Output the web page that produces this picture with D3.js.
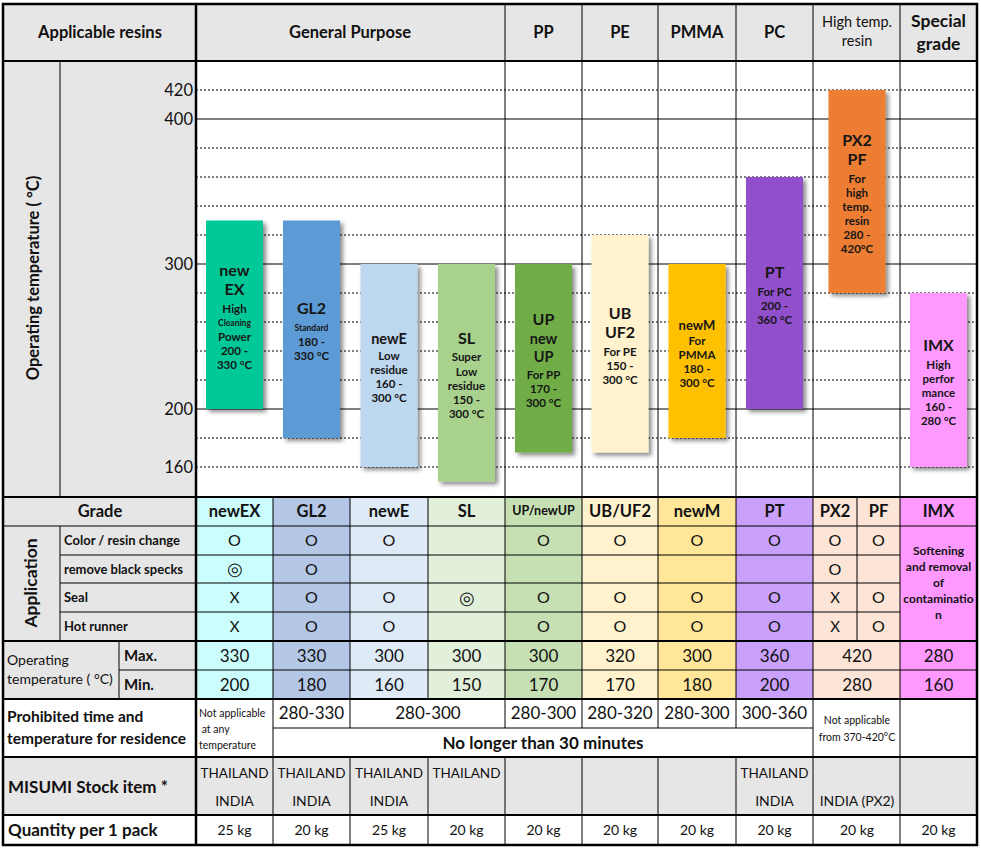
<!DOCTYPE html>
<html>
<head>
<meta charset="utf-8">
<title>Purging grades | operating temperature</title>
<style>
  body { margin: 0; background: #fff; }
  svg text { font-family: Lato, "Open Sans", sans-serif; fill: #111; }
</style>
</head>
<body>
<svg width="981" height="849"></svg>
<script src="https://cdn.jsdelivr.net/npm/d3@7/dist/d3.min.js"></script>
<script>
// ---- data ----
var resinGroups = [["General Purpose"], ["PP"], ["PE"], ["PMMA"], ["PC"], ["High temp.", "resin"], ["Special", "grade"]];
var groupSpan = [[0, 4], [4, 5], [5, 6], [6, 7], [7, 8], [8, 10], [10, 11]];
var subCols = ["newEX", "GL2", "newE", "SL", "UP/newUP", "UB/UF2", "newM", "PT", "PX2", "PF", "IMX"];
var grades = ["newEX", "GL2", "newE", "SL", "UP", "UB", "newM", "PT", "PX2 PF", "IMX"];
var gradeSpan = [[0, 1], [1, 2], [2, 3], [3, 4], [4, 5], [5, 6], [6, 7], [7, 8], [8, 10], [10, 11]];
var maxTemp = [330, 330, 300, 300, 300, 320, 300, 360, 420, 280];
var minTemp = [200, 180, 160, 150, 170, 170, 180, 200, 280, 160];
var yTicks = [420, 400, 300, 200, 160];
var barTitles = [["new", "EX"], ["GL2"], ["newE"], ["SL"], ["UP", "new", "UP"], ["UB", "UF2"], ["newM"], ["PT"], ["PX2", "PF"], ["IMX"]];
var barNotes = [
  ["High", "Cleaning", "Power", "200 -", "330 °C"],
  ["Standard", "180 -", "330  °C"],
  ["Low", "residue", "160 -", "300 °C"],
  ["Super", "Low", "residue", "150 -", "300 °C"],
  ["For PP", "170 -", "300 °C"],
  ["For PE", "150 -", "300 °C"],
  ["For", "PMMA", "180 -", "300 °C"],
  ["For PC", "200 -", "360 °C"],
  ["For", "high", "temp.", "resin", "280 -", "420°C"],
  ["High", "perfor", "mance", "160 -", "280 °C"]
];
var appRows = ["Color / resin change", "remove black specks", "Seal", "Hot runner"];
var appMarks = [
  ["O", "O", "O", "", "O", "O", "O", "O", "O", "O"],
  ["◎", "O", "", "", "", "", "", "", "O", ""],
  ["X", "O", "O", "◎", "O", "O", "O", "O", "X", "O"],
  ["X", "O", "O", "", "O", "O", "O", "O", "X", "O"]
];
var imxApp = ["Softening", "and removal", "of", "contaminatio", "n"];
var prohibitedRange = ["280-330", "280-300", "280-300", "280-320", "280-300", "300-360"];
var prohibitedSpan = [[1, 2], [2, 4], [4, 5], [5, 6], [6, 7], [7, 8]];
var stockItems = [["THAILAND", "INDIA"], ["THAILAND", "INDIA"], ["THAILAND", "INDIA"], ["THAILAND", ""], ["", ""], ["", ""], ["", ""], ["THAILAND", "INDIA"], ["", "INDIA (PX2)"], ["", ""]];
var packQty = ["25 kg", "20 kg", "25 kg", "20 kg", "20 kg", "20 kg", "20 kg", "20 kg", "20 kg", "20 kg"];

// ---- styles ----
var barColors = ["#00c997", "#5b9bd5", "#bdd7ee", "#a9d18e", "#70ad47", "#fff2cc", "#ffc000", "#9250cc", "#ed7d31", "#ff99ff"];
var cellColors = ["#cbfdfd", "#b4c7e7", "#deebf7", "#e2efda", "#c6e0b4", "#fff2cc", "#ffe699", "#c9a0fb", "#fce4d6", "#fce4d6", "#ff99ff"];
var titleSizes = [[16, 16], [16], [14.5], [16], [16, 14.5, 14.5], [16, 16], [13], [16], [16, 16], [16]];
var gray = "#e7e6e6";

var svg = d3.select("svg");
var L = 3, R = 977, T = 4, B = 845;
var rows = { head: 61, chart: 497, grade: 526, app: [526, 555, 583, 612, 641], tmax: 670, temp: 699, proMid: 728, pro: 757, stock: 815 };

// sub-column edges
var x = d3.scaleLinear().domain(d3.range(12)).range([196, 273, 350, 428, 505, 582, 658, 736, 813, 857, 900, 977]);
var y = d3.scaleLinear().domain([200, 400]).range([409, 119]);

var defs = svg.append("defs");
defs.append("filter").attr("id", "shadow").attr("x", "-20%").attr("y", "-10%").attr("width", "150%").attr("height", "130%")
  .append("feDropShadow").attr("dx", 3).attr("dy", 3).attr("stdDeviation", 2)
  .attr("flood-color", "#000").attr("flood-opacity", 0.45);

function box(x0, y0, x1, y1, fill) {
  svg.append("rect").attr("x", x0).attr("y", y0).attr("width", x1 - x0).attr("height", y1 - y0).attr("fill", fill);
}
function line(x0, y0, x1, y1, w, dash) {
  svg.append("line").attr("x1", x0).attr("y1", y0).attr("x2", x1).attr("y2", y1)
    .attr("stroke", "#000").attr("stroke-width", w || 1).attr("stroke-dasharray", dash || null);
}
function label(t, cx, cy, size, bold, anchor, fill) {
  return svg.append("text").attr("x", cx).attr("y", cy).attr("dy", "0.35em")
    .attr("text-anchor", anchor || "middle").attr("font-size", size)
    .attr("font-weight", bold ? "bold" : "normal").style("fill", fill || null).text(t);
}

// ---- backgrounds ----
box(L, T, R, rows.head, gray);
box(L, rows.head, 196, rows.chart, gray);
box(196, rows.head, R, rows.chart, "#fff");
box(L, rows.chart, 196, rows.temp, gray);
box(L, rows.temp, R, rows.pro, "#fff");
box(L, rows.pro, R, rows.stock, gray);
box(L, rows.stock, R, B, "#fff");
subCols.forEach(function(c, i) {
  box(x(i), rows.chart, x(i + 1), rows.temp, cellColors[i]);
});

// ---- chart grid ----
d3.range(160, 421, 20).forEach(function(v) {
  var major = v % 100 === 0;
  line(196, y(v), R, y(v), 1, major ? null : "2,2");
});
[4, 5, 6, 7, 8, 10].forEach(function(i) { line(x(i), T, x(i), rows.chart); });
line(60, rows.head, 60, rows.chart);
yTicks.forEach(function(v) { label(v, 193, y(v), 16.5, false, "end"); });

// ---- bars ----
var bars = svg.append("g").selectAll("g").data(grades).enter().append("g");
bars.append("rect")
  .attr("x", function(d, i) { return x((gradeSpan[i][0] + gradeSpan[i][1]) / 2) - 28.5; })
  .attr("y", function(d, i) { return y(maxTemp[i]); })
  .attr("width", 57)
  .attr("height", function(d, i) { return y(minTemp[i]) - y(maxTemp[i]); })
  .attr("fill", function(d, i) { return barColors[i]; })
  .attr("filter", "url(#shadow)");

grades.forEach(function(g, i) {
  var lines = barTitles[i].map(function(t, j) { return { t: t, s: titleSizes[i][j], b: true }; })
    .concat(barNotes[i].map(function(t) { return { t: t, s: (t === "Cleaning" || t === "Standard") ? 8.5 : 11.5, b: true }; }));
  var pos = [0];
  for (var k = 1; k < lines.length; k++) {
    pos.push(pos[k - 1] + Math.max(13.4, 1.22 * Math.max(lines[k - 1].s, lines[k].s)));
  }
  var cy = (y(maxTemp[i]) + y(minTemp[i])) / 2 + 3 - pos[pos.length - 1] / 2;
  var cx = x((gradeSpan[i][0] + gradeSpan[i][1]) / 2);
  lines.forEach(function(l, k) { label(l.t, cx, cy + pos[k], l.s, l.b, "middle", "#161616"); });
});

// ---- table lines ----
for (var i = 1; i <= 10; i++) line(x(i), rows.chart, x(i), rows.app[4]);
rows.app.slice(1, 4).forEach(function(yy) { line(60, yy, x(10), yy); });
line(L, rows.grade, R, rows.grade);
line(60, rows.grade, 60, rows.app[4]);
line(119, rows.app[4], 119, rows.temp);
line(119, rows.tmax, R, rows.tmax);
[1, 2, 3, 4, 5, 6, 7, 8, 10].forEach(function(i) { line(x(i), rows.app[4], x(i), rows.temp); });
[1, 8, 10].forEach(function(i) { line(x(i), rows.temp, x(i), rows.pro); });
[2, 4, 5, 6, 7].forEach(function(i) { line(x(i), rows.temp, x(i), rows.proMid); });
line(x(1), rows.proMid, x(8), rows.proMid);
[1, 2, 3, 4, 5, 6, 7, 8, 10].forEach(function(i) { line(x(i), rows.pro, x(i), B); });

// thick lines
[rows.head, rows.chart, rows.app[4], rows.temp, rows.pro, rows.stock].forEach(function(yy) { line(L, yy, R, yy, 2); });
line(196, T, 196, B, 2.5);
svg.append("rect").attr("x", L).attr("y", T).attr("width", R - L).attr("height", B - T)
  .attr("fill", "none").attr("stroke", "#000").attr("stroke-width", 2.5);

// ---- header texts ----
label("Applicable resins", 100, 32, 16.5, true);
resinGroups.forEach(function(g, i) {
  var cx = x((groupSpan[i][0] + groupSpan[i][1]) / 2);
  if (g.length === 1) label(g[0], cx, 32, 16.5, true);
  else if (i === 5) { label(g[0], cx, 22, 14.5, false); label(g[1], cx, 41, 14.5, false); }
  else { label(g[0], cx, 21, 17.5, true); label(g[1], cx, 44, 17.5, true); }
});
svg.append("text").attr("transform", "translate(33,278) rotate(-90)").attr("dy", "0.35em")
  .attr("text-anchor", "middle").attr("font-size", 16.5).attr("font-weight", "bold").text("Operating temperature ( °C)");

// ---- grade + application ----
label("Grade", 100, 511, 16.5, true);
subCols.forEach(function(c, i) { label(c, x(i + 0.5), 511, c === "UP/newUP" ? 12.5 : 16.5, true); });
svg.append("text").attr("transform", "translate(31,583) rotate(-90)").attr("dy", "0.35em")
  .attr("text-anchor", "middle").attr("font-size", 17.5).attr("font-weight", "bold").text("Application");
appRows.forEach(function(r, j) {
  var cy = (rows.app[j] + rows.app[j + 1]) / 2;
  label(r, 64, cy, 13, true, "start");
  appMarks[j].forEach(function(m, i) { if (m) label(m, x(i + 0.5), cy, m === "X" ? 15 : (m === "◎" ? 18 : 16), false); });
});
imxApp.forEach(function(t, k) { label(t, x(10.5), 583 + (k - 2) * 16, 12, true); });

// ---- operating temperature ----
label("Operating", 7, 660, 14, false, "start");
label("temperature ( °C)", 7, 679, 14, false, "start");
label("Max.", 124, 656, 15, true, "start");
label("Min.", 124, 685, 15, true, "start");
grades.forEach(function(g, i) {
  var cx = x((gradeSpan[i][0] + gradeSpan[i][1]) / 2);
  label(maxTemp[i], cx, 656, 17, false);
  label(minTemp[i], cx, 685, 17, false);
});

// ---- prohibited residence ----
label("Prohibited time and", 7, 717, 15.5, true, "start");
label("temperature for residence", 7, 739, 15.5, true, "start");
label("Not applicable", 199, 713, 10.5, false, "start");
label(" at any", 199, 729, 10.5, false, "start").attr("xml:space", "preserve");
label("temperature", 199, 745, 10.5, false, "start");
prohibitedRange.forEach(function(t, i) {
  label(t, x((prohibitedSpan[i][0] + prohibitedSpan[i][1]) / 2), 713, 17, false);
});
label("No longer than 30 minutes", (x(1) + x(8)) / 2, 743, 17, true);
label("Not applicable", x(9), 720, 10.5, false);
label("from 370-420°C", x(9), 737, 10.5, false);

// ---- stock + pack ----
label("MISUMI Stock item *", 8, 787, 17, true, "start");
label("Quantity per 1 pack", 8, 830, 17, true, "start");
grades.forEach(function(g, i) {
  var cx = x((gradeSpan[i][0] + gradeSpan[i][1]) / 2);
  if (stockItems[i][0]) label(stockItems[i][0], cx, 773, 13.5, false);
  if (stockItems[i][1]) label(stockItems[i][1], cx, 801, 14, false);
  label(packQty[i], cx, 830, 14, false);
});
</script>
</body>
</html>
